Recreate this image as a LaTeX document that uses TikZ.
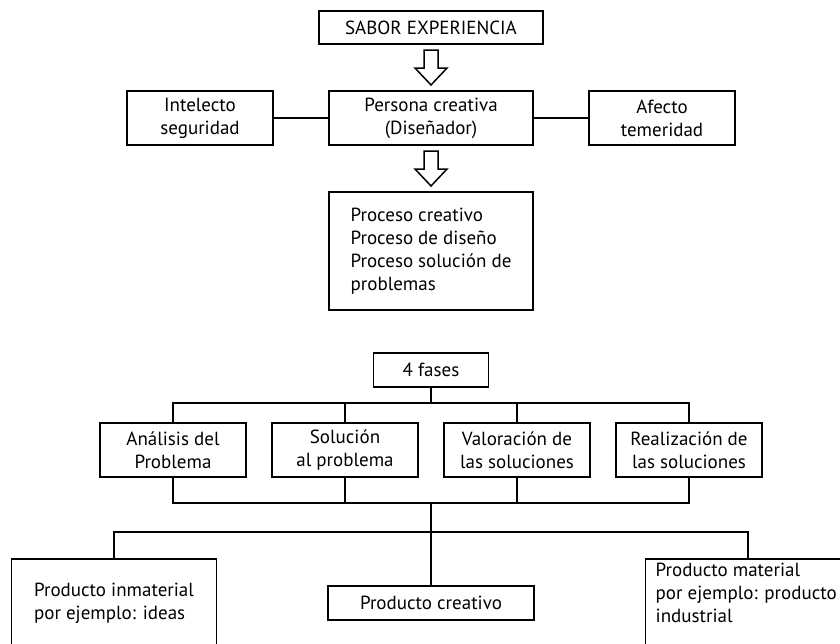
\documentclass[tikz,border=0pt]{standalone}
\usepackage{fontspec}
\setmainfont{PT Sans}
\usetikzlibrary{positioning}

\begin{document}
\begin{tikzpicture}[
	x=1pt, y=-1pt,
	node distance=56pt and 26pt,
	box/.style = {draw, line width=1.5pt, align=center, inner sep=0pt, outer sep=0pt,
		font=\fontsize{19}{23}\selectfont},
	midbox/.style = {box, minimum width=204pt, minimum height=54pt},
	sidebox/.style = {box, minimum width=146pt, minimum height=54pt},
	prodbox/.style = {box, minimum width=205pt, minimum height=88pt, align=left},
	hollow/.style = {draw, line width=1.5pt, line join=miter},
	link/.style = {draw, line width=1.5pt}
	]
	\useasboundingbox (0,0) rectangle (840,643);
	\clip (0,0) rectangle (840,643);
%
	\node[box, minimum width=224pt, minimum height=33pt] (sabor) at (431,27.5) {SABOR EXPERIENCIA};
	\node[midbox] (persona) at (431,118) {Persona creativa\\(Diseñador)};
	\node[sidebox, left=56pt of persona] (intelecto) {Intelecto\\seguridad};
	\node[sidebox, right=56pt of persona] (afecto) {Afecto\\temeridad};
	\node[midbox, minimum height=118pt, align=left] (proceso) at (431,251)
		{Proceso creativo\\Proceso de diseño\\Proceso solución de\\problemas};
%
	\draw[link] (intelecto) -- (persona);
	\draw[link] (persona) -- (afecto);
	\foreach \a in {sabor, persona}
		\draw[hollow] ([shift={(-7,6)}]\a.south) -- ++(0,18) -- ++(-9,0) -- ++(16,17)
			-- ++(16,-17) -- ++(-9,0) -- ++(0,-18) -- cycle;
%
	\node[box, minimum width=115pt, minimum height=34pt] (fases) at (431,370) {4 fases};
	\node[sidebox] (analisis) at (173,450) {Análisis del\\Problema};
	\node[sidebox, right=26pt of analisis] (solucion) {Solución\\al problema};
	\node[sidebox, right=26pt of solucion] (valoracion) {Valoración de\\las soluciones};
	\node[sidebox, right=26pt of valoracion] (realizacion) {Realización de\\las soluciones};
%
	\coordinate (top) at (431,403);
	\coordinate (join) at (431,503);
	\coordinate (split) at (431,532);
	\draw[link] (fases) -- (top);
	\foreach \n in {analisis, solucion, valoracion, realizacion}
	{
		\draw[link] (top) -| (\n.north);
		\draw[link] (\n.south) |- (join);
	}
%
	\node[box, minimum width=206pt, minimum height=34pt] (creativo) at (431,603) {Producto creativo};
	\node[prodbox] (inmaterial) at (114,603) {Producto inmaterial\\por ejemplo: ideas};
	\node[prodbox] (material) at (748,603) {};
	\node[anchor=north west, align=left, inner sep=0pt, font=\fontsize{19}{23}\selectfont]
		(materialtxt) at ([shift={(10,4)}]material.north west)
		{Producto material\\por ejemplo: producto\\industrial};
	\draw[link] (join) -- (creativo);
	\foreach \n in {inmaterial, material}
		\draw[link] (split) -| (\n.north);
\end{tikzpicture}
\end{document}
